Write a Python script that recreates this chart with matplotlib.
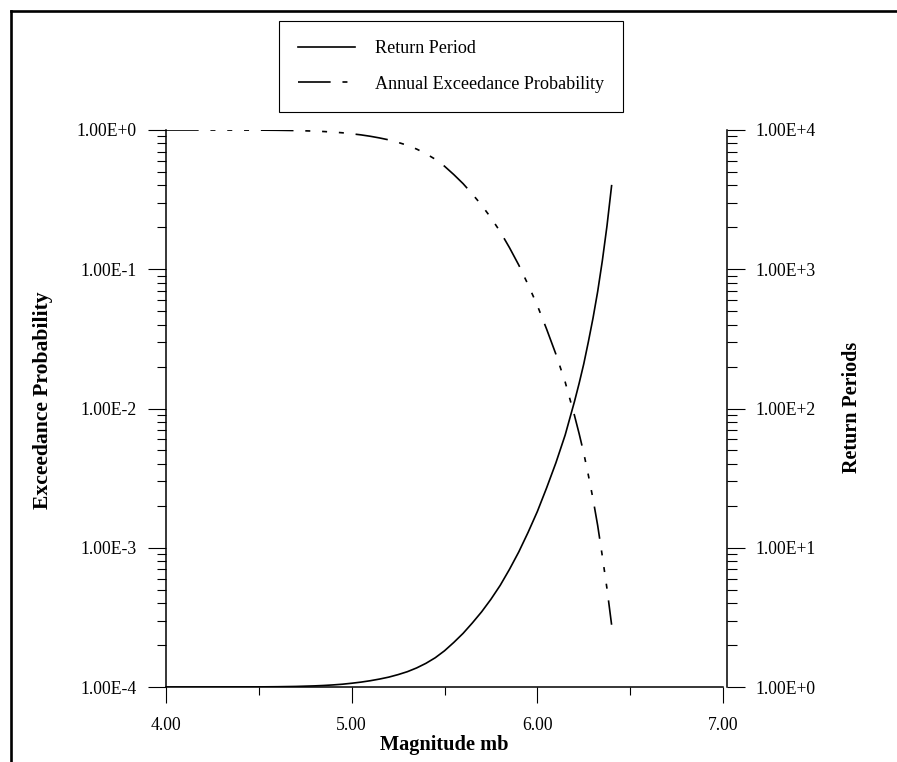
import numpy as np
import matplotlib
matplotlib.use("Agg")
import matplotlib.pyplot as plt
from matplotlib.lines import Line2D
from matplotlib.ticker import FixedLocator, FixedFormatter, LogLocator, NullFormatter

# magnitude steps and values along both curves
magnitude = [4.0, 4.2, 4.4, 4.5, 4.6, 4.7, 4.8, 4.85, 4.9, 4.95, 5.0, 5.05,
             5.1, 5.15, 5.2, 5.25, 5.3, 5.35, 5.4, 5.45, 5.5, 5.55, 5.6, 5.65,
             5.7, 5.75, 5.8, 5.85, 5.9, 5.95, 6.0, 6.05, 6.1, 6.15, 6.2, 6.225,
             6.25, 6.275, 6.3, 6.325, 6.35, 6.375, 6.4]
return_period = [1.0, 1.0, 1.001, 1.002, 1.0046, 1.0093, 1.0186, 1.0257,
                 1.0351, 1.0471, 1.0641, 1.0839, 1.1092, 1.1402, 1.1776,
                 1.2274, 1.2882, 1.3709, 1.4791, 1.6218, 1.8197, 2.0893,
                 2.4266, 2.884, 3.4674, 4.2658, 5.3703, 6.9984, 9.3325, 12.882,
                 18.197, 26.915, 40.738, 64.565, 112.2, 151.36, 208.93, 301.99,
                 446.68, 691.83, 1148.2, 2041.7, 3981.1]
exceedance_prob = [1.0, 1.0, 0.999, 0.998, 0.9954, 0.9908, 0.9817, 0.975,
                   0.9661, 0.955, 0.9397, 0.9226, 0.9016, 0.877, 0.8492,
                   0.8147, 0.7763, 0.7295, 0.6761, 0.6166, 0.5495, 0.4786,
                   0.4121, 0.3467, 0.2884, 0.2344, 0.1862, 0.1429, 0.1072,
                   0.0776, 0.05495, 0.03715, 0.02455, 0.01549, 0.008913,
                   0.006607, 0.004786, 0.003311, 0.002239, 0.001445, 0.000871,
                   0.00051, 0.00028]

x_ticks = [4.0, 5.0, 6.0, 7.0]
x_minor = [4.5, 5.5, 6.5]
x_labels = ["4.00", "5.00", "6.00", "7.00"]
prob_ticks = [1e-4, 1e-3, 1e-2, 1e-1, 1e0]
prob_labels = ["1.00E-4", "1.00E-3", "1.00E-2", "1.00E-1", "1.00E+0"]
period_ticks = [1e0, 1e1, 1e2, 1e3, 1e4]
period_labels = ["1.00E+0", "1.00E+1", "1.00E+2", "1.00E+3", "1.00E+4"]


def main():
    plt.rcParams["font.family"] = ["Liberation Serif", "DejaVu Serif"]
    plt.rcParams["lines.scale_dashes"] = False

    fig = plt.figure(figsize=(8.97, 7.62), dpi=100)
    ax = fig.add_axes([166 / 897, 1 - 687 / 762, 557 / 897, 557 / 762])
    ax2 = ax.twinx()

    line_ep, = ax.plot(magnitude, exceedance_prob, color="black", lw=1.2,
                       label="Annual Exceedance Probability")
    line_ep.set_dashes([23.5, 8.5, 3.6, 8.5, 3.6, 8.5, 3.6, 8.5])
    line_rp, = ax2.plot(magnitude, return_period, color="black", lw=1.2,
                        label="Return Period")

    ax.set_xlim(4, 7)
    ax.set_yscale("log")
    ax.set_ylim(1e-4, 1e0)
    ax2.set_yscale("log")
    ax2.set_ylim(1e0, 1e4)

    ax.xaxis.set_major_locator(FixedLocator(x_ticks))
    ax.xaxis.set_major_formatter(FixedFormatter(x_labels))
    ax.xaxis.set_minor_locator(FixedLocator(x_minor))
    ax.yaxis.set_major_locator(FixedLocator(prob_ticks))
    ax.yaxis.set_major_formatter(FixedFormatter(prob_labels))
    ax.yaxis.set_minor_locator(LogLocator(base=10, subs=np.arange(2, 10)))
    ax.yaxis.set_minor_formatter(NullFormatter())
    ax2.yaxis.set_major_locator(FixedLocator(period_ticks))
    ax2.yaxis.set_major_formatter(FixedFormatter(period_labels))
    ax2.yaxis.set_minor_locator(LogLocator(base=10, subs=np.arange(2, 10)))
    ax2.yaxis.set_minor_formatter(NullFormatter())

    for a in (ax, ax2):
        a.spines["top"].set_visible(False)
        for s in a.spines.values():
            s.set_linewidth(1.1)
    ax.spines["right"].set_visible(False)
    ax2.spines["left"].set_visible(False)
    ax2.spines["bottom"].set_visible(False)
    ax2.spines["right"].set_position(("outward", 3))

    ax.tick_params(axis="y", which="major", direction="out", length=13,
                   width=0.8, pad=8, labelsize=12.7)
    ax.tick_params(axis="y", which="minor", direction="out", length=6.5, width=0.8)
    ax.tick_params(axis="x", which="major", direction="out", length=11.5,
                   width=0.8, pad=10, labelsize=12.7)
    ax.tick_params(axis="x", which="minor", direction="out", length=6, width=0.8)
    ax2.tick_params(axis="y", which="major", direction="out", length=13,
                    width=0.8, pad=7.5, labelsize=12.7)
    ax2.tick_params(axis="y", which="minor", direction="out", length=7, width=0.8)

    fig.text(444.5 / 897, 1 - 745 / 762, "Magnitude mb", ha="center",
             va="center", fontsize=14.7, fontweight="bold")
    fig.text(43 / 897, 1 - 400 / 762, "Exceedance Probability", ha="center",
             va="center", rotation=90, fontsize=15.6, fontweight="bold")
    fig.text(852 / 897, 1 - 407 / 762, "Return Periods", ha="center",
             va="center", rotation=90, fontsize=14.5, fontweight="bold")

    leg = fig.legend(handles=[line_rp, line_ep], loc="upper left",
                     bbox_to_anchor=(279 / 897, 1 - 21 / 762), borderaxespad=0,
                     fontsize=13.1, handlelength=3.15, handletextpad=1.05,
                     borderpad=1.05, labelspacing=1.02, fancybox=False,
                     framealpha=1, edgecolor="black")
    leg.get_frame().set_linewidth(0.8)

    # page frame on the left and top
    fig.add_artist(Line2D([10.5 / 897, 10.5 / 897], [0, 1 - 10.5 / 762],
                          transform=fig.transFigure, color="black", lw=1.9))
    fig.add_artist(Line2D([10.5 / 897, 1], [1 - 10.5 / 762, 1 - 10.5 / 762],
                          transform=fig.transFigure, color="black", lw=1.9))

    fig.savefig("out.png", dpi=100)
    plt.close(fig)


if __name__ == "__main__":
    main()
